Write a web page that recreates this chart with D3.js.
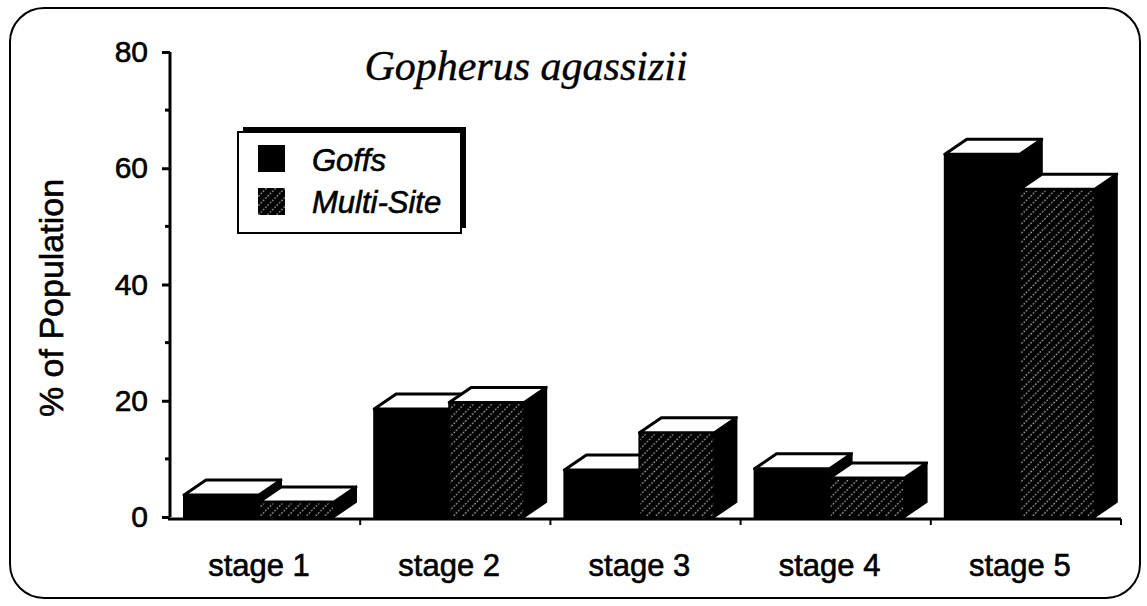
<!DOCTYPE html>
<html>
<head>
<meta charset="utf-8">
<script src="https://cdn.jsdelivr.net/npm/d3@7/dist/d3.min.js"></script>
<style>
  body { margin: 0; background: #fff; }
  svg { display: block; }
  text { font-family: "Liberation Sans", Arial, sans-serif; fill: #000; stroke: #000; stroke-width: 0.6px; }
</style>
</head>
<body>
<div id="chart"></div>
<script>
// data
const stages = ["stage 1", "stage 2", "stage 3", "stage 4", "stage 5"];
const goffs = [3.8, 18.6, 8.1, 8.3, 62.4];
const multiSite = [2.6, 19.7, 14.5, 6.7, 56.4];
const seriesNames = ["Goffs", "Multi-Site"];
const yTicks = [0, 20, 40, 60, 80];
const yMinorTicks = [10, 30, 50, 70];

const W = 1147, H = 606;
const depthX = 22, depthY = -15;

const svg = d3.select("#chart").append("svg")
  .attr("width", W)
  .attr("height", H);

// hatch for Multi-Site
const defs = svg.append("defs");
const pat = defs.append("pattern")
  .attr("id", "hatch")
  .attr("patternUnits", "userSpaceOnUse")
  .attr("width", 6.5)
  .attr("height", 6.5)
  .attr("patternTransform", "rotate(45)");
pat.append("rect").attr("width", 6.5).attr("height", 6.5).attr("fill", "#000");
pat.append("line")
  .attr("x1", 3).attr("y1", 0).attr("x2", 3).attr("y2", 6.5)
  .attr("stroke", "#fff")
  .attr("stroke-width", 0.9)
  .attr("stroke-dasharray", "1.6,1.65");

// outer frame
svg.append("rect")
  .attr("x", 10).attr("y", 8)
  .attr("width", 1130).attr("height", 590)
  .attr("rx", 34).attr("ry", 34)
  .attr("fill", "none")
  .attr("stroke", "#000")
  .attr("stroke-width", 2);

const x = d3.scaleBand()
  .domain(stages)
  .range([170, 1121])
  .paddingInner(0)
  .paddingOuter(0);

const xs = d3.scaleBand()
  .domain(seriesNames)
  .range([14, 164]);

const y = d3.scaleLinear()
  .domain([0, 80])
  .range([517, 52]);

// bars, left to right so later ones cover earlier sides
const plot = svg.append("g");
stages.forEach((s, i) => {
  const vals = [goffs[i], multiSite[i]];
  seriesNames.forEach((name, j) => {
    const x0 = x(s) + xs(name);
    const x1 = x0 + xs.bandwidth();
    const y0 = y(0);
    const y1 = y(vals[j]);
    const fill = j === 0 ? "#000" : "url(#hatch)";
    // side face
    plot.append("path")
      .attr("d", `M${x1},${y0} L${x1 + depthX},${y0 + depthY} L${x1 + depthX},${y1 + depthY} L${x1},${y1} Z`)
      .attr("fill", "#000")
      .attr("stroke", "#000")
      .attr("stroke-width", 2);
    // front face
    plot.append("rect")
      .attr("x", x0).attr("y", y1)
      .attr("width", x1 - x0).attr("height", y0 - y1)
      .attr("fill", fill)
      .attr("stroke", "#000")
      .attr("stroke-width", 2);
    // top face
    plot.append("path")
      .attr("d", `M${x0},${y1} L${x0 + depthX},${y1 + depthY} L${x1 + depthX},${y1 + depthY} L${x1},${y1} Z`)
      .attr("fill", "#fff")
      .attr("stroke", "#000")
      .attr("stroke-width", 3)
      .attr("stroke-linejoin", "round");
  });
});

// y axis
const yAxis = svg.append("g")
  .attr("transform", "translate(170,0)")
  .call(d3.axisLeft(y).tickValues(yTicks).tickSize(8).tickPadding(14).tickFormat(d3.format("d")));
yAxis.select(".domain").attr("stroke-width", 3).attr("d", `M0,${y(80)}V${y(0)}`);
yAxis.selectAll(".tick line").attr("stroke-width", 3);
yAxis.selectAll(".tick text")
  .style("font-size", "30px")
  .style("font-family", "Liberation Sans, Arial, sans-serif");

svg.append("g")
  .attr("transform", "translate(170,0)")
  .selectAll("line")
  .data(yMinorTicks)
  .join("line")
  .attr("x1", -5).attr("x2", 0)
  .attr("y1", d => y(d)).attr("y2", d => y(d))
  .attr("stroke", "#000")
  .attr("stroke-width", 3);

// x axis
svg.append("line")
  .attr("x1", 168).attr("x2", x.range()[1])
  .attr("y1", 519).attr("y2", 519)
  .attr("stroke", "#000")
  .attr("stroke-width", 3);
svg.append("g")
  .selectAll("line")
  .data(stages)
  .join("line")
  .attr("x1", d => x(d) + x.bandwidth()).attr("x2", d => x(d) + x.bandwidth())
  .attr("y1", 519).attr("y2", 525)
  .attr("stroke", "#000")
  .attr("stroke-width", 2);
svg.append("g")
  .selectAll("text")
  .data(stages)
  .join("text")
  .attr("x", d => x(d) + (xs.range()[0] + xs.range()[1]) / 2)
  .attr("y", 576)
  .attr("text-anchor", "middle")
  .style("font-size", "31px")
  .text(d => d);

// y label
svg.append("text")
  .attr("transform", "translate(63,298) rotate(-90)")
  .attr("text-anchor", "middle")
  .style("font-size", "34px")
  .text("% of Population");

// title
svg.append("text")
  .attr("x", 526).attr("y", 80)
  .attr("text-anchor", "middle")
  .style("font-family", "Liberation Serif, Times New Roman, serif")
  .style("font-style", "italic")
  .style("font-size", "42px")
  .style("stroke-width", "0.4px")
  .text("Gopherus agassizii");

// legend
const lg = svg.append("g");
lg.append("rect")
  .attr("x", 243).attr("y", 127)
  .attr("width", 223).attr("height", 101)
  .attr("fill", "#000");
lg.append("rect")
  .attr("x", 238).attr("y", 132)
  .attr("width", 223).attr("height", 101)
  .attr("fill", "#fff")
  .attr("stroke", "#000")
  .attr("stroke-width", 2);
const lgFills = ["#000", "url(#hatch)"];
seriesNames.forEach((name, j) => {
  lg.append("rect")
    .attr("x", 258).attr("y", 145 + j * 43)
    .attr("width", 27).attr("height", 27)
    .attr("fill", lgFills[j]);
  lg.append("text")
    .attr("x", 312).attr("y", 171 + j * 42)
    .style("font-size", "31px")
    .style("font-style", "italic")
    .text(name);
});
</script>
</body>
</html>
